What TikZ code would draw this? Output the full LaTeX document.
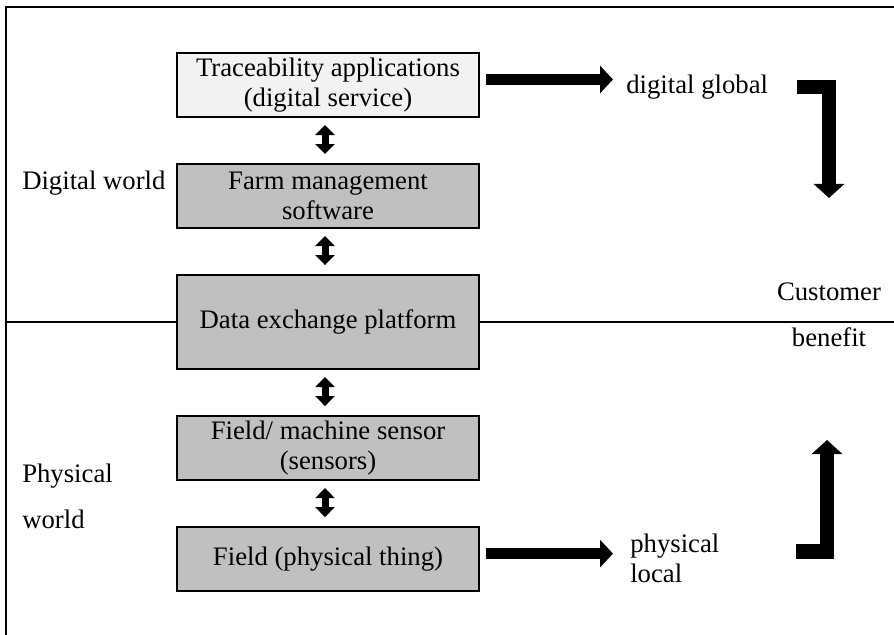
\documentclass[tikz,border=0pt]{standalone}
\usepackage{fontspec}
\setmainfont{Liberation Serif}
\usetikzlibrary{positioning, arrows.meta}
\definecolor{grisbox}{RGB}{192, 192, 192}
\definecolor{grisclaro}{RGB}{242, 242, 242}

\begin{document}
\begin{tikzpicture}[x=0.025cm, y=-0.025cm,
    layer/.style={draw, line width=0.05cm, outer sep=0pt, fill=grisbox, minimum width=7.55cm, minimum height=1.6cm, align=center, inner sep=0pt, font=\fontsize{19}{21.3}\selectfont},
    lbl/.style={inner sep=0pt, align=left, font=\fontsize{19}{21.3}\selectfont},
    dbl/.style={line width=0.175cm, {Triangle[length=0.25cm,width=0.475cm]}-{Triangle[length=0.25cm,width=0.475cm]}, shorten <=0.2cm, shorten >=0.25cm},
    flecha/.style={line width=0.275cm, -{Triangle[length=0.325cm,width=0.675cm]}},
    codo/.style={line width=0.35cm, -{Triangle[length=0.35cm,width=0.75cm]}}]
        \useasboundingbox (0,0) rectangle (894,635);
        \node[layer, fill=grisclaro] (trace) at (328,85) {Traceability applications\\(digital service)};
        \node[layer, below=1.175cm of trace] (farm) {Farm management\\software};
        \node[layer, below=1.175cm of farm, minimum height=2.35cm] (data) {Data exchange platform};
        \node[layer, below=1.175cm of data] (sensor) {Field/ machine sensor\\(sensors)};
        \node[layer, below=1.175cm of sensor] (field) {Field (physical thing)};
        \node[lbl, anchor=west] (glob) at (626,87) {digital global};
        \node[lbl, anchor=west] (loc) at (630,558) {physical\\local};
        \node[lbl, anchor=west] (dig) at (22,183) {Digital world};
        \node[lbl, anchor=west] (phys) at (22,496) {Physical\\[0.4cm]world};
        \node[lbl, align=center] (cust) at (829,315) {Customer\\[0.4cm]benefit};
        \coordinate (tl) at (6,7);
        \coordinate (tr) at (894,7);
        \draw[line width=0.0625cm] (tr) -- (tl) -- (6,635);
        \draw[line width=0.05cm] (data.west -| tl) -- (data.west);
        \draw[line width=0.05cm] (data.east) -- (data.east -| tr);
        \draw[dbl] ([xshift=-0.075cm]trace.south) -- ([xshift=-0.075cm]farm.north);
        \draw[dbl] ([xshift=-0.075cm]farm.south) -- ([xshift=-0.075cm]data.north);
        \draw[dbl] ([xshift=-0.075cm]data.south) -- ([xshift=-0.075cm]sensor.north);
        \draw[dbl] ([xshift=-0.075cm]sensor.south) -- ([xshift=-0.075cm]field.north);
        \draw[flecha, shorten <=0.175cm, shorten >=0.325cm] ([yshift=0.1375cm]trace.east) -- ([yshift=0.1375cm]trace.east -| glob.west);
        \draw[flecha, shorten <=0.175cm, shorten >=0.425cm] ([yshift=0.1375cm]field.east) -- ([yshift=0.1375cm]field.east -| loc.west);
        \coordinate (g1) at (797,87);
        \coordinate (g2) at (829,198);
        \draw[codo] (g1) -- (g1 -| g2) -- (g2);
        \coordinate (l1) at (796,551.5);
        \coordinate (l2) at (827,440);
        \draw[codo] (l1) -- (l1 -| l2) -- (l2);
      \end{tikzpicture}
\end{document}
